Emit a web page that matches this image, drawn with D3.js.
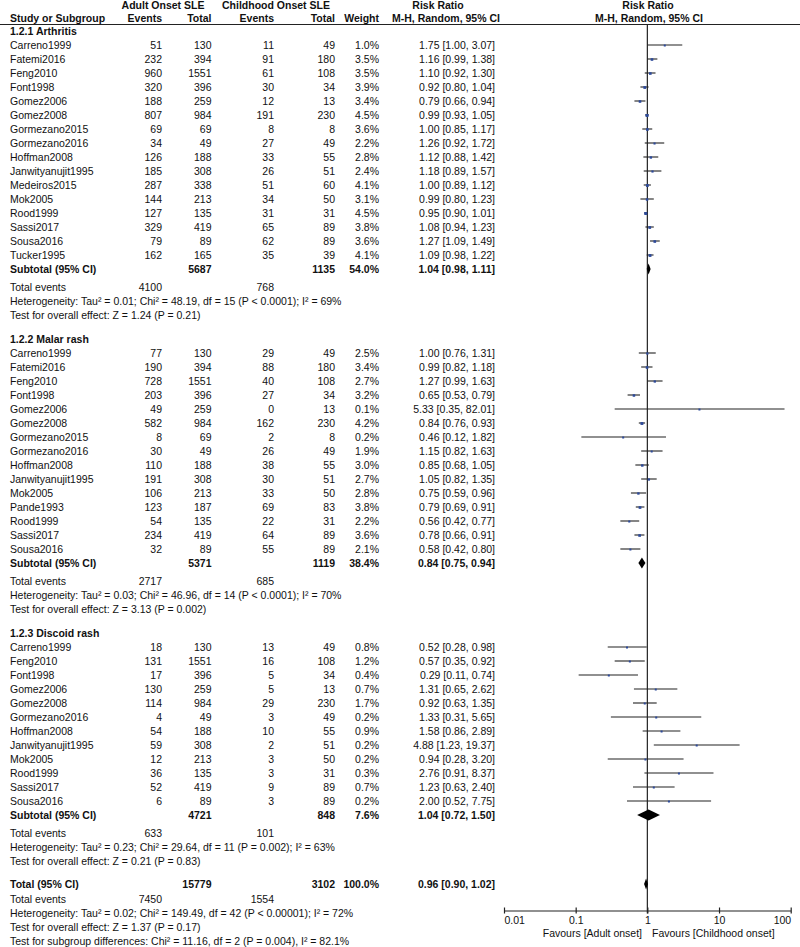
<!DOCTYPE html>
<html><head><meta charset="utf-8">
<script src="https://cdn.jsdelivr.net/npm/d3@7"></script>
<style>
html,body{margin:0;padding:0;background:#fff;}
svg text{font-family:"Liberation Sans",Arial,Helvetica,sans-serif;font-size:10.5px;fill:#111;}
</style></head><body>
<div id="chart"></div>
<script>
// ---------- DATA ----------
const groupNames = ["1.2.1 Arthritis", "1.2.2 Malar rash", "1.2.3 Discoid rash"];

const arthritisStudies = ["Carreno1999","Fatemi2016","Feng2010","Font1998","Gomez2006","Gomez2008","Gormezano2015","Gormezano2016","Hoffman2008","Janwityanujit1995","Medeiros2015","Mok2005","Rood1999","Sassi2017","Sousa2016","Tucker1995"];
const arthritisAdultEvents = [51,232,960,320,188,807,69,34,126,185,287,144,127,329,79,162];
const arthritisAdultTotal  = [130,394,1551,396,259,984,69,49,188,308,338,213,135,419,89,165];
const arthritisChildEvents = [11,91,61,30,12,191,8,27,33,26,51,34,31,65,62,35];
const arthritisChildTotal  = [49,180,108,34,13,230,8,49,55,51,60,50,31,89,89,39];
const arthritisWeight = [1.0,3.5,3.5,3.9,3.4,4.5,3.6,2.2,2.8,2.4,4.1,3.1,4.5,3.8,3.6,4.1];
const arthritisRR  = [1.75,1.16,1.10,0.92,0.79,0.99,1.00,1.26,1.12,1.18,1.00,0.99,0.95,1.08,1.27,1.09];
const arthritisLo  = [1.00,0.99,0.92,0.80,0.66,0.93,0.85,0.92,0.88,0.89,0.89,0.80,0.90,0.94,1.09,0.98];
const arthritisHi  = [3.07,1.38,1.30,1.04,0.94,1.05,1.17,1.72,1.42,1.57,1.12,1.23,1.01,1.23,1.49,1.22];

const malarStudies = ["Carreno1999","Fatemi2016","Feng2010","Font1998","Gomez2006","Gomez2008","Gormezano2015","Gormezano2016","Hoffman2008","Janwityanujit1995","Mok2005","Pande1993","Rood1999","Sassi2017","Sousa2016"];
const malarAdultEvents = [77,190,728,203,49,582,8,30,110,191,106,123,54,234,32];
const malarAdultTotal  = [130,394,1551,396,259,984,69,49,188,308,213,187,135,419,89];
const malarChildEvents = [29,88,40,27,0,162,2,26,38,30,33,69,22,64,55];
const malarChildTotal  = [49,180,108,34,13,230,8,49,55,51,50,83,31,89,89];
const malarWeight = [2.5,3.4,2.7,3.2,0.1,4.2,0.2,1.9,3.0,2.7,2.8,3.8,2.2,3.6,2.1];
const malarRR = [1.00,0.99,1.27,0.65,5.33,0.84,0.46,1.15,0.85,1.05,0.75,0.79,0.56,0.78,0.58];
const malarLo = [0.76,0.82,0.99,0.53,0.35,0.76,0.12,0.82,0.68,0.82,0.59,0.69,0.42,0.66,0.42];
const malarHi = [1.31,1.18,1.63,0.79,82.01,0.93,1.82,1.63,1.05,1.35,0.96,0.91,0.77,0.91,0.80];

const discoidStudies = ["Carreno1999","Feng2010","Font1998","Gomez2006","Gomez2008","Gormezano2016","Hoffman2008","Janwityanujit1995","Mok2005","Rood1999","Sassi2017","Sousa2016"];
const discoidAdultEvents = [18,131,17,130,114,4,54,59,12,36,52,6];
const discoidAdultTotal  = [130,1551,396,259,984,49,188,308,213,135,419,89];
const discoidChildEvents = [13,16,5,5,29,3,10,2,3,3,9,3];
const discoidChildTotal  = [49,108,34,13,230,49,55,51,50,31,89,89];
const discoidWeight = [0.8,1.2,0.4,0.7,1.7,0.2,0.9,0.2,0.2,0.3,0.7,0.2];
const discoidRR = [0.52,0.57,0.29,1.31,0.92,1.33,1.58,4.88,0.94,2.76,1.23,2.00];
const discoidLo = [0.28,0.35,0.11,0.65,0.63,0.31,0.86,1.23,0.28,0.91,0.63,0.52];
const discoidHi = [0.98,0.92,0.74,2.62,1.35,5.65,2.89,19.37,3.20,8.37,2.40,7.75];

const subtotalAdultTotal = [5687, 5371, 4721];
const subtotalChildTotal = [1135, 1119, 848];
const subtotalWeight = ["54.0%", "38.4%", "7.6%"];
const subtotalRR = [1.04, 0.84, 1.04];
const subtotalLo = [0.98, 0.75, 0.72];
const subtotalHi = [1.11, 0.94, 1.50];
const totalEventsAdult = [4100, 2717, 633];
const totalEventsChild = [768, 685, 101];
const heterogeneityText = [
  "Heterogeneity: Tau² = 0.01; Chi² = 48.19, df = 15 (P < 0.0001); I² = 69%",
  "Heterogeneity: Tau² = 0.03; Chi² = 46.96, df = 14 (P < 0.0001); I² = 70%",
  "Heterogeneity: Tau² = 0.23; Chi² = 29.64, df = 11 (P = 0.002); I² = 63%"
];
const overallEffectText = [
  "Test for overall effect: Z = 1.24 (P = 0.21)",
  "Test for overall effect: Z = 3.13 (P = 0.002)",
  "Test for overall effect: Z = 0.21 (P = 0.83)"
];

const overall = {adultTotal: 15779, childTotal: 3102, weight: "100.0%", rr: 0.96, lo: 0.90, hi: 1.02,
  eventsAdult: 7450, eventsChild: 1554};
const overallTexts = [
  "Heterogeneity: Tau² = 0.02; Chi² = 149.49, df = 42 (P < 0.00001); I² = 72%",
  "Test for overall effect: Z = 1.37 (P = 0.17)",
  "Test for subgroup differences: Chi² = 11.16, df = 2 (P = 0.004), I² = 82.1%"
];

const axisTicks = [0.01, 0.1, 1, 10, 100];
const axisTickLabels = ["0.01", "0.1", "1", "10", "100"];
const favoursLeft = "Favours [Adult onset]";
const favoursRight = "Favours [Childhood onset]";

// ---------- BUILD ----------
const groups = [
  {studies: arthritisStudies, ae: arthritisAdultEvents, at: arthritisAdultTotal, ce: arthritisChildEvents, ct: arthritisChildTotal, w: arthritisWeight, rr: arthritisRR, lo: arthritisLo, hi: arthritisHi},
  {studies: malarStudies, ae: malarAdultEvents, at: malarAdultTotal, ce: malarChildEvents, ct: malarChildTotal, w: malarWeight, rr: malarRR, lo: malarLo, hi: malarHi},
  {studies: discoidStudies, ae: discoidAdultEvents, at: discoidAdultTotal, ce: discoidChildEvents, ct: discoidChildTotal, w: discoidWeight, rr: discoidRR, lo: discoidLo, hi: discoidHi}
];

const W = 800, H = 947;
const svg = d3.select("#chart").append("svg").attr("width", W).attr("height", H);

const x = d3.scaleLog().domain([0.01, 100]).range([504, 790.7]);
const fmt2 = d3.format(".2f");
const ciText = (r, l, h) => `${fmt2(r)} [${fmt2(l)}, ${fmt2(h)}]`;

const col = {name: 10, ae: 162, at: 211.5, ce: 274, ct: 335, w: 379, rr: 495};

function txt(xp, yp, s, anchor, bold) {
  svg.append("text").attr("x", xp).attr("y", yp).attr("dy", "0.35em")
    .attr("text-anchor", anchor || "start")
    .attr("font-weight", bold ? "bold" : null).text(s);
}

// headers
txt(163, 5, "Adult Onset SLE", "middle", true);
txt(276, 5, "Childhood Onset SLE", "middle", true);
txt(438, 5, "Risk Ratio", "middle", true);
txt(648, 5, "Risk Ratio", "middle", true);
txt(col.name, 18, "Study or Subgroup", "start", true);
txt(col.ae, 18, "Events", "end", true);
txt(col.at, 18, "Total", "end", true);
txt(col.ce, 18, "Events", "end", true);
txt(col.ct, 18, "Total", "end", true);
txt(col.w, 18, "Weight", "end", true);
txt(446, 18, "M-H, Random, 95% CI", "middle", true);
txt(649, 18, "M-H, Random, 95% CI", "middle", true);
svg.append("line").attr("x1", 0).attr("x2", W).attr("y1", 24.5).attr("y2", 24.5)
  .attr("stroke", "#222").attr("stroke-width", 1);

const plotG = svg.append("g");
const pitch = 14;
let yHeader = 31;
const diamonds = [];
const studyRows = [];

function diamond(yc, rr, lo, hi) {
  const h = 5.5;
  const pts = [[x(lo), yc], [x(rr), yc - h], [x(hi), yc], [x(rr), yc + h]];
  diamonds.push(pts);
}

groups.forEach((g, gi) => {
  txt(col.name, yHeader, groupNames[gi], "start", true);
  g.studies.forEach((s, i) => {
    const y = yHeader + pitch * (i + 1);
    txt(col.name, y, s);
    txt(col.ae, y, g.ae[i], "end");
    txt(col.at, y, g.at[i], "end");
    txt(col.ce, y, g.ce[i], "end");
    txt(col.ct, y, g.ct[i], "end");
    txt(col.w, y, d3.format(".1f")(g.w[i]) + "%", "end");
    txt(col.rr, y, ciText(g.rr[i], g.lo[i], g.hi[i]), "end");
    studyRows.push({y, rr: g.rr[i], lo: g.lo[i], hi: g.hi[i], w: g.w[i]});
  });
  const s = yHeader + pitch * (g.studies.length + 1);
  txt(col.name, s, "Subtotal (95% CI)", "start", true);
  txt(col.at, s, subtotalAdultTotal[gi], "end", true);
  txt(col.ct, s, subtotalChildTotal[gi], "end", true);
  txt(col.w, s, subtotalWeight[gi], "end", true);
  txt(col.rr, s, ciText(subtotalRR[gi], subtotalLo[gi], subtotalHi[gi]), "end", true);
  diamond(s, subtotalRR[gi], subtotalLo[gi], subtotalHi[gi]);
  txt(col.name, s + 18, "Total events");
  txt(col.ae, s + 18, totalEventsAdult[gi], "end");
  txt(col.ce, s + 18, totalEventsChild[gi], "end");
  txt(col.name, s + 32, heterogeneityText[gi]);
  txt(col.name, s + 46, overallEffectText[gi]);
  yHeader = s + 70;
});

// overall
const yT = yHeader - 1;
txt(col.name, yT, "Total (95% CI)", "start", true);
txt(col.at, yT, overall.adultTotal, "end", true);
txt(col.ct, yT, overall.childTotal, "end", true);
txt(col.w, yT, overall.weight, "end", true);
txt(col.rr, yT, ciText(overall.rr, overall.lo, overall.hi), "end", true);
diamond(yT, overall.rr, overall.lo, overall.hi);
txt(col.name, yT + 15, "Total events");
txt(col.ae, yT + 15, overall.eventsAdult, "end");
txt(col.ce, yT + 15, overall.eventsChild, "end");
overallTexts.forEach((t, i) => txt(col.name, yT + 29 + 14 * i, t));

// axis
const axisY = 910.5;
plotG.append("line").attr("x1", x(1)).attr("x2", x(1)).attr("y1", 24.5).attr("y2", axisY + 3)
  .attr("stroke", "#222").attr("stroke-width", 1.2);

const axis = d3.axisBottom(x).tickValues(axisTicks)
  .tickFormat((d, i) => axisTickLabels[i]).tickSizeInner(3).tickSizeOuter(0).tickPadding(3);
const ag = svg.append("g").attr("transform", `translate(0,${axisY})`).call(axis);
ag.select(".domain").attr("stroke", "#222").attr("stroke-width", 1.2);
ag.selectAll(".tick line").attr("y1", -3).attr("stroke", "#222").attr("stroke-width", 1.2);
ag.selectAll(".tick text").attr("fill", "#111").style("font-size", "10.5px")
  .attr("text-anchor", (d, i) => i === 0 ? "start" : (i === axisTicks.length - 1 ? "end" : "middle"));
ag.attr("font-family", null).attr("font-size", null);

txt(642, 933, favoursLeft, "end");
txt(652, 933, favoursRight, "start");

// study CI lines + squares
plotG.selectAll("line.ci").data(studyRows).join("line").attr("class", "ci")
  .attr("x1", d => x(d.lo)).attr("x2", d => x(d.hi))
  .attr("y1", d => d.y).attr("y2", d => d.y)
  .attr("stroke", "#222").attr("stroke-width", 1.1);
const side = d => Math.max(2, Math.sqrt(d.w) * 1.4);
plotG.selectAll("rect.pt").data(studyRows).join("rect").attr("class", "pt")
  .attr("width", side).attr("height", side)
  .attr("x", d => x(d.rr) - side(d) / 2)
  .attr("y", d => d.y + 0.5 - side(d) / 2)
  .attr("fill", "#2d4a9a");

plotG.selectAll("path.dia").data(diamonds).join("path").attr("class", "dia")
  .attr("d", d => d3.line()(d) + "Z").attr("fill", "#000");
</script>
</body></html>
